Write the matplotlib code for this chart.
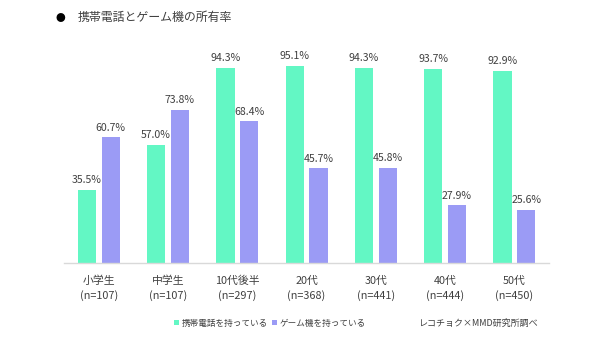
import matplotlib
matplotlib.use("Agg")
import matplotlib.pyplot as plt
import numpy as np

plt.rcParams['font.family'] = ['Noto Sans CJK JP', 'DejaVu Sans']

categories = ["小学生", "中学生", "10代後半", "20代", "30代", "40代", "50代"]
sample_sizes = [107, 107, 297, 368, 441, 444, 450]
phone_rate = [35.5, 57.0, 94.3, 95.1, 94.3, 93.7, 92.9]
game_rate = [60.7, 73.8, 68.4, 45.7, 45.8, 27.9, 25.6]
series_names = ["携帯電話を持っている", "ゲーム機を持っている"]
title = "携帯電話とゲーム機の所有率"
source = "レコチョク×MMD研究所調べ"

green = "#63F7C4"
purple = "#9B9BF5"
text_col = "#404040"

fig = plt.figure(figsize=(6, 3.43), dpi=100)
ax = fig.add_axes([0.107, 0.233, 0.808, 0.604])

x = np.arange(len(categories))
w = 0.264
gap = 0.04
b1 = ax.bar(x - w / 2 - gap, phone_rate, width=w, color=green, label=series_names[0])
b2 = ax.bar(x + w / 2 + gap, game_rate, width=w, color=purple, label=series_names[1])

for bars, vals in ((b1, phone_rate), (b2, game_rate)):
    for r, v in zip(bars, vals):
        ax.text(r.get_x() + r.get_width() / 2, v + 2.3, f"{v:.1f}%",
                ha="center", va="bottom", fontsize=7.6, color=text_col)

ax.set_xlim(-0.5, len(categories) - 0.5)
ax.set_ylim(0, 100)
ax.set_yticks([])
ax.set_xticks(x)
ax.set_xticklabels([f"{c}\n(n={n})" for c, n in zip(categories, sample_sizes)],
                   fontsize=7.8, color=text_col, linespacing=1.45)
ax.tick_params(axis="x", length=0, pad=9)
for s in ("top", "right", "left"):
    ax.spines[s].set_visible(False)
ax.spines["bottom"].set_color("#d9d9d9")
ax.spines["bottom"].set_linewidth(1)

fig.text(0.093, 0.948, "●", fontsize=7, color="#000000", va="center")
fig.text(0.13, 0.948, title, fontsize=8.6, color=text_col, va="center")

fig.legend(handles=[b1, b2], labels=series_names, loc="center",
           bbox_to_anchor=(0.45, 0.058), ncol=2, frameon=False, fontsize=6.2,
           handlelength=0.6, handleheight=0.6, handletextpad=0.3, columnspacing=0.4,
           labelcolor=text_col)
fig.text(0.798, 0.058, source, fontsize=6.5, color=text_col, ha="center", va="center")

fig.savefig("out.png", dpi=100)
